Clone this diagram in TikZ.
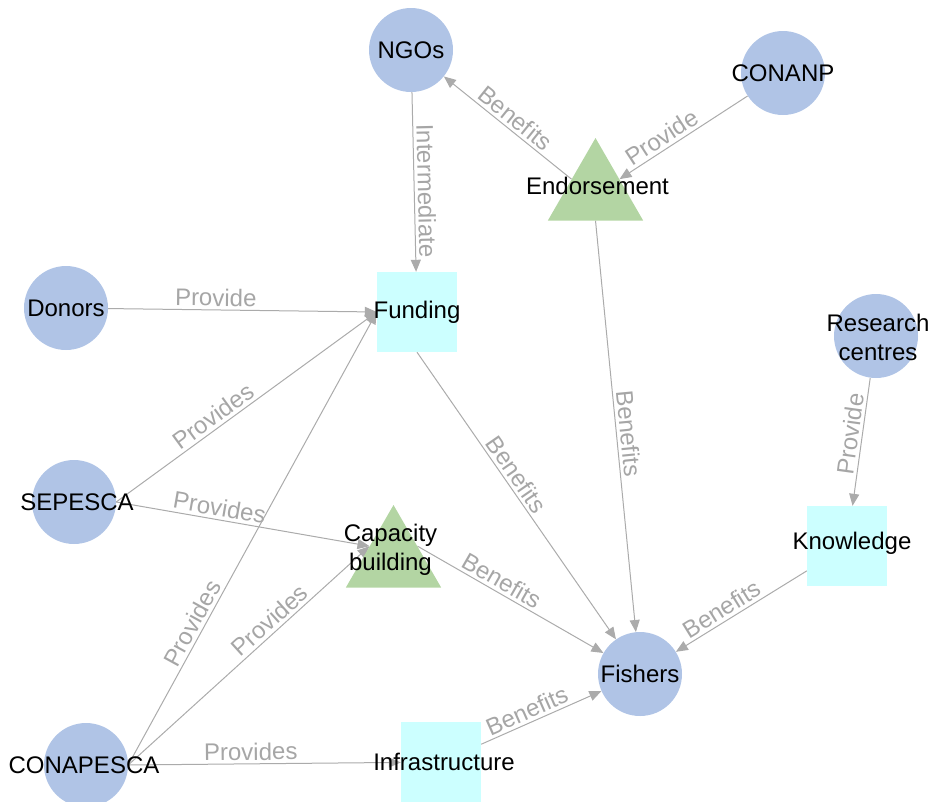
\documentclass[tikz,border=0pt]{standalone}
\usepackage{fontspec}
\setmainfont{Liberation Sans}
\usetikzlibrary{shapes.geometric,arrows.meta}
\pgfdeclarelayer{bg}
\pgfsetlayers{bg,main}
\definecolor{circ}{HTML}{B0C4E6}
\definecolor{tri}{HTML}{B3D5A3}
\definecolor{sq}{HTML}{CCFFFF}
\definecolor{edgec}{HTML}{ABABAB}
\definecolor{labc}{HTML}{A6A6A6}
\tikzset{
  txt/.style={font=\fontsize{24}{29}\selectfont, text=black, align=center, inner sep=0pt},
  actor/.style={circle, fill=circ, minimum size=84pt, inner sep=0pt, draw=none},
  resource/.style={rectangle, fill=sq, minimum size=80pt, inner sep=0pt, draw=none},
  service/.style={regular polygon, regular polygon sides=3, fill=tri, minimum size=110pt, inner sep=0pt, draw=none},
  conn/.style={draw=edgec, line width=1pt, -{Triangle[length=12pt,width=10pt,fill=edgec]}},
  elab/.style={sloped, above, font=\fontsize{24}{29}\selectfont, text=labc, inner sep=3pt}
}
\begin{document}
\begin{tikzpicture}[x=1pt,y=-1pt]
\useasboundingbox (0,0) rectangle (934,801);
% actors
\node[actor, label={[txt]center:NGOs}] (ngo) at (411,50) {};
\node[actor, label={[txt]center:CONANP}] (conanp) at (783,73) {};
\node[actor, label={[txt]center:Donors}] (donors) at (66,308) {};
\node[actor, label={[txt,xshift=3pt]center:SEPESCA}] (sepesca) at (74,502) {};
\node[actor, label={[txt,xshift=-2pt]center:CONAPESCA}] (conapesca) at (86,765) {};
\node[actor, label={[txt]center:Fishers}] (fishers) at (640,674) {};
\node[actor, label={[txt,xshift=2pt,yshift=-1pt]center:Research\\centres}] (research) at (876,336) {};
% resources
\node[resource, label={[txt]center:Funding}] (funding) at (417,312) {};
\node[resource, label={[txt,xshift=5pt,yshift=3pt]center:Knowledge}] (knowledge) at (847,546) {};
\node[resource, label={[txt,xshift=3pt]center:Infrastructure}] (infra) at (441,762) {};
% services
\node[service, label={[txt,xshift=2pt,yshift=7pt]center:Endorsement}] (endorse) at (595.5,193) {};
\node[service, label={[txt,xshift=-3pt,yshift=10pt]center:Capacity\\building}] (capacity) at (393.5,560) {};
% connectors
\begin{pgfonlayer}{bg}
\draw[conn] (ngo) -- node[elab, pos=0.55] {Intermediate} (funding);
\draw[conn] (endorse.side 1) -- node[elab, pos=0.5] {Benefits} (ngo);
\draw[conn] (conanp) -- node[elab, pos=0.62] {Provide} (endorse.side 3);
\draw[conn] (endorse.side 2) -- node[elab, pos=0.52] {Benefits} (fishers);
\draw[conn] (donors) -- node[elab, pos=0.4] {Provide} (funding.west);
\draw[conn] (sepesca.east) -- node[elab, pos=0.4] {Provides} (funding.west);
\draw[conn] (sepesca.east) -- node[elab, pos=0.4] {Provides} (capacity.side 1);
\draw[conn] (conapesca.east) -- node[elab, pos=0.3] {Provides} (funding.west);
\draw[conn] (conapesca.east) -- node[elab, pos=0.62] {Provides} (capacity.side 1);
\draw[conn] (conapesca.east) -- node[elab, pos=0.45] {Provides} (infra);
\draw[conn] (funding.south) -- node[elab, pos=0.45] {Benefits} (fishers);
\draw[conn] (capacity.side 3) -- node[elab, pos=0.42] {Benefits} (fishers);
\draw[conn] (infra) -- node[elab, pos=0.42] {Benefits} (fishers);
\draw[conn] (research) -- node[elab, pos=0.45] {Provide} (knowledge);
\draw[conn] (knowledge) -- node[elab, pos=0.6] {Benefits} (fishers);
\end{pgfonlayer}
\end{tikzpicture}
\end{document}
